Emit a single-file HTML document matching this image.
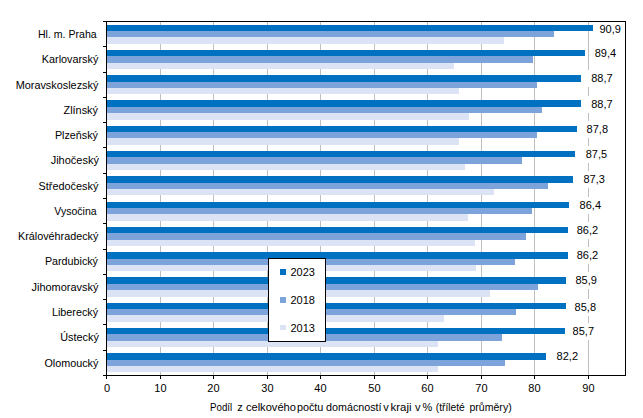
<!DOCTYPE html><html><head><meta charset="utf-8"><style>html,body{margin:0;padding:0;background:#fff;width:643px;height:418px;overflow:hidden}svg{display:block}text{font-family:"Liberation Sans",sans-serif;font-size:11px;fill:#000}</style></head><body>
<svg width="643" height="418" viewBox="0 0 643 418" shape-rendering="crispEdges">
<rect x="160" y="22" width="1" height="353" fill="#BFBFBF"/>
<rect x="213" y="22" width="1" height="353" fill="#BFBFBF"/>
<rect x="267" y="22" width="1" height="353" fill="#BFBFBF"/>
<rect x="320" y="22" width="1" height="353" fill="#BFBFBF"/>
<rect x="374" y="22" width="1" height="353" fill="#BFBFBF"/>
<rect x="427" y="22" width="1" height="353" fill="#BFBFBF"/>
<rect x="481" y="22" width="1" height="353" fill="#BFBFBF"/>
<rect x="534" y="22" width="1" height="353" fill="#BFBFBF"/>
<rect x="588" y="22" width="1" height="353" fill="#BFBFBF"/>
<rect x="107" y="25" width="486" height="6" fill="#0070C0"/>
<rect x="107" y="31" width="447" height="6" fill="#7CA4DA"/>
<rect x="107" y="37" width="397" height="7" fill="#DCE3F4"/>
<rect x="107" y="50" width="478" height="6" fill="#0070C0"/>
<rect x="107" y="56" width="426" height="7" fill="#7CA4DA"/>
<rect x="107" y="63" width="347" height="6" fill="#DCE3F4"/>
<rect x="107" y="75" width="474" height="7" fill="#0070C0"/>
<rect x="107" y="82" width="430" height="6" fill="#7CA4DA"/>
<rect x="107" y="88" width="352" height="6" fill="#DCE3F4"/>
<rect x="107" y="100" width="474" height="7" fill="#0070C0"/>
<rect x="107" y="107" width="435" height="6" fill="#7CA4DA"/>
<rect x="107" y="113" width="362" height="7" fill="#DCE3F4"/>
<rect x="107" y="126" width="470" height="6" fill="#0070C0"/>
<rect x="107" y="132" width="430" height="6" fill="#7CA4DA"/>
<rect x="107" y="138" width="352" height="7" fill="#DCE3F4"/>
<rect x="107" y="151" width="468" height="6" fill="#0070C0"/>
<rect x="107" y="157" width="415" height="7" fill="#7CA4DA"/>
<rect x="107" y="164" width="358" height="6" fill="#DCE3F4"/>
<rect x="107" y="176" width="466" height="7" fill="#0070C0"/>
<rect x="107" y="183" width="441" height="6" fill="#7CA4DA"/>
<rect x="107" y="189" width="387" height="6" fill="#DCE3F4"/>
<rect x="107" y="202" width="462" height="6" fill="#0070C0"/>
<rect x="107" y="208" width="425" height="6" fill="#7CA4DA"/>
<rect x="107" y="214" width="361" height="7" fill="#DCE3F4"/>
<rect x="107" y="227" width="461" height="6" fill="#0070C0"/>
<rect x="107" y="233" width="419" height="7" fill="#7CA4DA"/>
<rect x="107" y="240" width="368" height="6" fill="#DCE3F4"/>
<rect x="107" y="252" width="461" height="7" fill="#0070C0"/>
<rect x="107" y="259" width="408" height="6" fill="#7CA4DA"/>
<rect x="107" y="265" width="369" height="6" fill="#DCE3F4"/>
<rect x="107" y="277" width="459" height="7" fill="#0070C0"/>
<rect x="107" y="284" width="431" height="6" fill="#7CA4DA"/>
<rect x="107" y="290" width="383" height="7" fill="#DCE3F4"/>
<rect x="107" y="303" width="459" height="6" fill="#0070C0"/>
<rect x="107" y="309" width="409" height="6" fill="#7CA4DA"/>
<rect x="107" y="315" width="337" height="7" fill="#DCE3F4"/>
<rect x="107" y="328" width="458" height="6" fill="#0070C0"/>
<rect x="107" y="334" width="395" height="7" fill="#7CA4DA"/>
<rect x="107" y="341" width="331" height="6" fill="#DCE3F4"/>
<rect x="107" y="353" width="439" height="7" fill="#0070C0"/>
<rect x="107" y="360" width="398" height="6" fill="#7CA4DA"/>
<rect x="107" y="366" width="331" height="6" fill="#DCE3F4"/>
<rect x="594" y="21" width="31" height="17" fill="#fff"/>
<text x="599.5" y="33">90,9</text>
<rect x="590" y="45" width="31" height="17" fill="#fff"/>
<text x="594.7" y="57">89,4</text>
<rect x="586" y="70" width="31" height="17" fill="#fff"/>
<text x="591.2" y="82">88,7</text>
<rect x="586" y="96" width="31" height="17" fill="#fff"/>
<text x="591.2" y="108">88,7</text>
<rect x="582" y="121" width="31" height="17" fill="#fff"/>
<text x="586.6" y="133">87,8</text>
<rect x="581" y="146" width="31" height="17" fill="#fff"/>
<text x="585.7" y="158">87,5</text>
<rect x="578" y="171" width="31" height="17" fill="#fff"/>
<text x="583.4" y="183">87,3</text>
<rect x="575" y="197" width="31" height="17" fill="#fff"/>
<text x="579.6" y="209">86,4</text>
<rect x="572" y="222" width="31" height="17" fill="#fff"/>
<text x="576.7" y="234">86,2</text>
<rect x="572" y="247" width="31" height="17" fill="#fff"/>
<text x="576.7" y="259">86,2</text>
<rect x="570" y="272" width="31" height="17" fill="#fff"/>
<text x="575.4" y="284">85,9</text>
<rect x="570" y="299" width="31" height="17" fill="#fff"/>
<text x="574.6" y="311">85,8</text>
<rect x="568" y="323" width="31" height="17" fill="#fff"/>
<text x="572.6" y="335">85,7</text>
<rect x="552" y="348" width="31" height="17" fill="#fff"/>
<text x="556.6" y="360">82,2</text>
<rect x="103" y="21" width="523" height="1" fill="#000"/>
<rect x="625" y="21" width="1" height="355" fill="#000"/>
<rect x="106" y="21" width="1" height="358" fill="#000"/>
<rect x="103" y="375" width="523" height="1" fill="#000"/>
<rect x="103" y="46" width="3" height="1" fill="#000"/>
<rect x="103" y="72" width="3" height="1" fill="#000"/>
<rect x="103" y="97" width="3" height="1" fill="#000"/>
<rect x="103" y="122" width="3" height="1" fill="#000"/>
<rect x="103" y="147" width="3" height="1" fill="#000"/>
<rect x="103" y="173" width="3" height="1" fill="#000"/>
<rect x="103" y="198" width="3" height="1" fill="#000"/>
<rect x="103" y="223" width="3" height="1" fill="#000"/>
<rect x="103" y="249" width="3" height="1" fill="#000"/>
<rect x="103" y="274" width="3" height="1" fill="#000"/>
<rect x="103" y="299" width="3" height="1" fill="#000"/>
<rect x="103" y="324" width="3" height="1" fill="#000"/>
<rect x="103" y="350" width="3" height="1" fill="#000"/>
<rect x="160" y="375" width="1" height="4" fill="#000"/>
<rect x="213" y="375" width="1" height="4" fill="#000"/>
<rect x="267" y="375" width="1" height="4" fill="#000"/>
<rect x="320" y="375" width="1" height="4" fill="#000"/>
<rect x="374" y="375" width="1" height="4" fill="#000"/>
<rect x="427" y="375" width="1" height="4" fill="#000"/>
<rect x="481" y="375" width="1" height="4" fill="#000"/>
<rect x="534" y="375" width="1" height="4" fill="#000"/>
<rect x="588" y="375" width="1" height="4" fill="#000"/>
<text x="37.9" y="38" textLength="58.8" lengthAdjust="spacingAndGlyphs">Hl. m. Praha</text>
<text x="41.8" y="63" textLength="56.5" lengthAdjust="spacingAndGlyphs">Karlovarský</text>
<text x="15.7" y="89" textLength="82.7" lengthAdjust="spacingAndGlyphs">Moravskoslezský</text>
<text x="63.5" y="114" textLength="34.5" lengthAdjust="spacingAndGlyphs">Zlínský</text>
<text x="54.9" y="139" textLength="43.1" lengthAdjust="spacingAndGlyphs">Plzeňský</text>
<text x="50.7" y="164" textLength="48.2" lengthAdjust="spacingAndGlyphs">Jihočeský</text>
<text x="38.6" y="190" textLength="59.8" lengthAdjust="spacingAndGlyphs">Středočeský</text>
<text x="54.3" y="215" textLength="42.3" lengthAdjust="spacingAndGlyphs">Vysočina</text>
<text x="18.0" y="240" textLength="80.4" lengthAdjust="spacingAndGlyphs">Královéhradecký</text>
<text x="44.9" y="265" textLength="53.1" lengthAdjust="spacingAndGlyphs">Pardubický</text>
<text x="31.5" y="291" textLength="66.9" lengthAdjust="spacingAndGlyphs">Jihomoravský</text>
<text x="52.0" y="316" textLength="46.0" lengthAdjust="spacingAndGlyphs">Liberecký</text>
<text x="60.2" y="341" textLength="38.7" lengthAdjust="spacingAndGlyphs">Ústecký</text>
<text x="44.4" y="367" textLength="54.0" lengthAdjust="spacingAndGlyphs">Olomoucký</text>
<text x="107.0" y="392" text-anchor="middle">0</text>
<text x="160.4" y="392" text-anchor="middle">10</text>
<text x="213.4" y="392" text-anchor="middle">20</text>
<text x="267.4" y="392" text-anchor="middle">30</text>
<text x="320.4" y="392" text-anchor="middle">40</text>
<text x="374.4" y="392" text-anchor="middle">50</text>
<text x="427.4" y="392" text-anchor="middle">60</text>
<text x="481.4" y="392" text-anchor="middle">70</text>
<text x="534.4" y="392" text-anchor="middle">80</text>
<text x="588.4" y="392" text-anchor="middle">90</text>
<text x="210.1" y="411" textLength="22.1" lengthAdjust="spacingAndGlyphs">Podíl</text>
<text x="237.2" y="411">z</text>
<text x="245.9" y="411" textLength="50.1" lengthAdjust="spacingAndGlyphs">celkového</text>
<text x="296.9" y="411" textLength="26.5" lengthAdjust="spacingAndGlyphs">počtu</text>
<text x="326.1" y="411" textLength="55.5" lengthAdjust="spacingAndGlyphs">domácností</text>
<text x="383.2" y="411">v</text>
<text x="390.6" y="411" textLength="20.9" lengthAdjust="spacingAndGlyphs">kraji</text>
<text x="414.9" y="411">v</text>
<text x="422.4" y="411">%</text>
<text x="435.8" y="411" textLength="29.0" lengthAdjust="spacingAndGlyphs">(tříleté</text>
<text x="469.4" y="411" textLength="42.3" lengthAdjust="spacingAndGlyphs">průměry)</text>
<rect x="268.5" y="258.5" width="57" height="83" fill="#fff" stroke="#000" stroke-width="1" shape-rendering="crispEdges"/>
<rect x="280" y="269" width="6" height="6" fill="#0070C0"/>
<text x="290.5" y="276">2023</text>
<rect x="280" y="297" width="6" height="6" fill="#7CA4DA"/>
<text x="290.5" y="304">2018</text>
<rect x="280" y="325" width="6" height="5" fill="#DCE3F4"/>
<text x="290.5" y="332">2013</text>
</svg></body></html>
